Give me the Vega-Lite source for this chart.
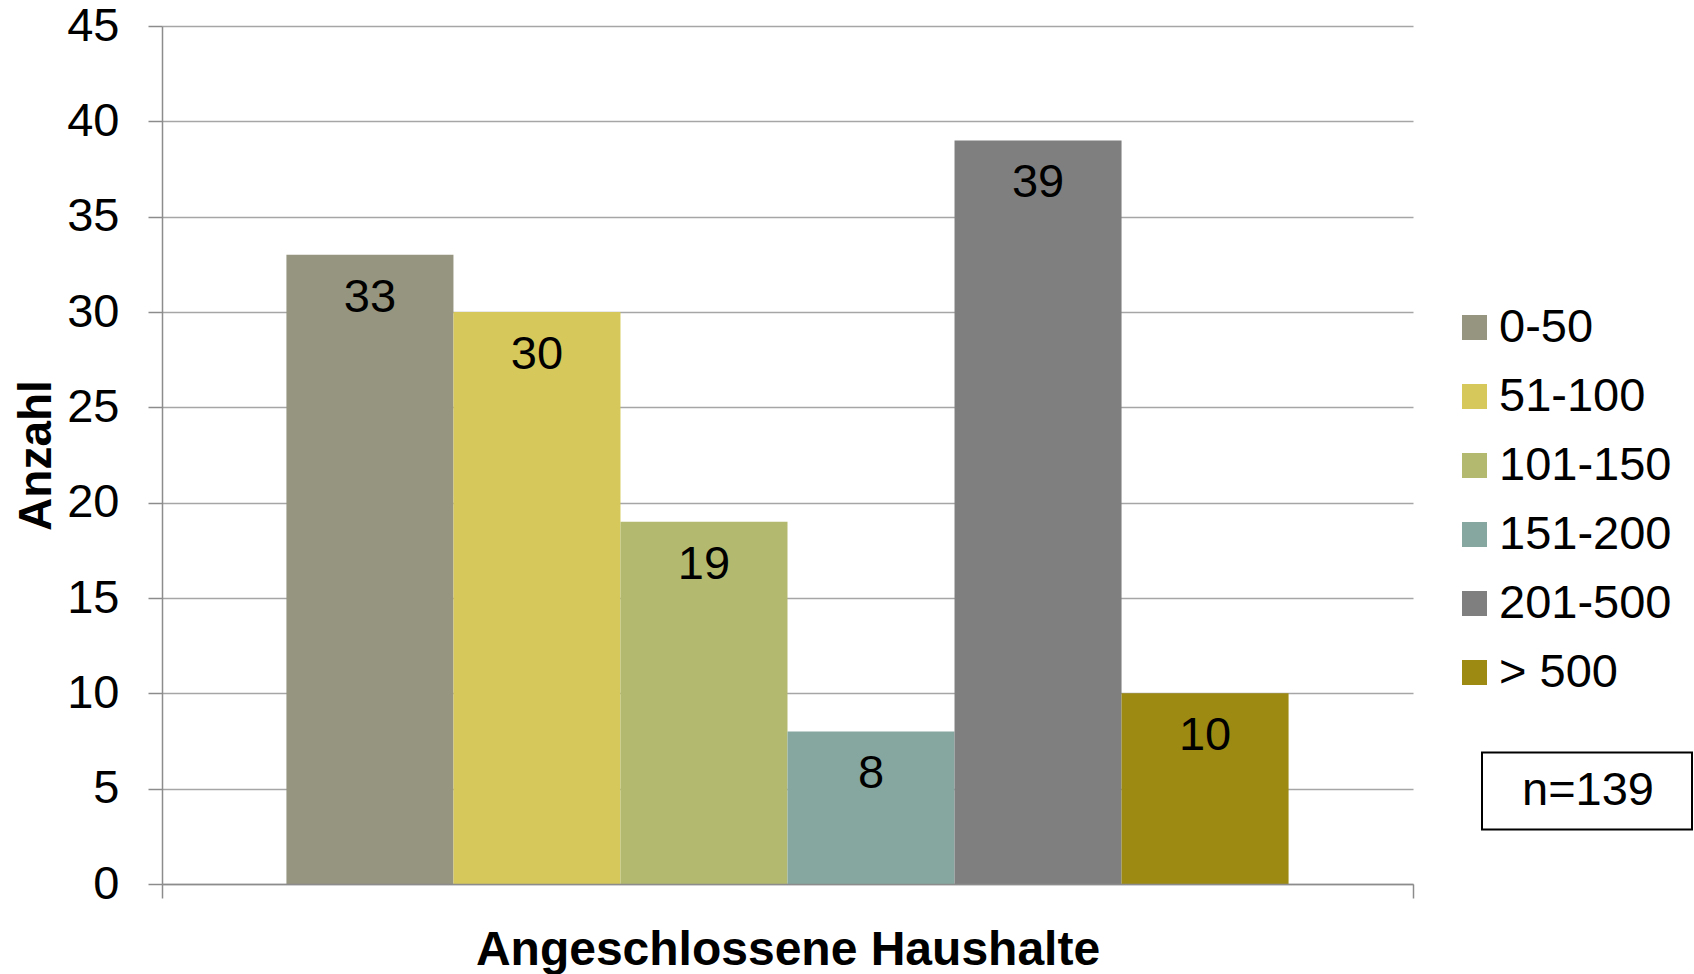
{
  "$schema": "https://vega.github.io/schema/vega-lite/v6.json",
  "width": 1251,
  "height": 858,
  "autosize": {"type": "none"},
  "padding": {"left": 162, "top": 26, "right": 281, "bottom": 90},
  "background": "white",
  "config": {"font": "Liberation Sans", "view": {"stroke": null}},
  "data": {
    "values": [
      {"gruppe": "Angeschlossene Haushalte", "klasse": "0-50", "anzahl": 33, "stichprobe": "n=139"},
      {"gruppe": "Angeschlossene Haushalte", "klasse": "51-100", "anzahl": 30, "stichprobe": "n=139"},
      {"gruppe": "Angeschlossene Haushalte", "klasse": "101-150", "anzahl": 19, "stichprobe": "n=139"},
      {"gruppe": "Angeschlossene Haushalte", "klasse": "151-200", "anzahl": 8, "stichprobe": "n=139"},
      {"gruppe": "Angeschlossene Haushalte", "klasse": "201-500", "anzahl": 39, "stichprobe": "n=139"},
      {"gruppe": "Angeschlossene Haushalte", "klasse": "> 500", "anzahl": 10, "stichprobe": "n=139"}
    ]
  },
  "encoding": {
    "x": {
      "field": "gruppe",
      "type": "nominal",
      "scale": {"paddingInner": 0, "paddingOuter": 0},
      "axis": {
        "labels": false,
        "ticks": true,
        "tickBand": "extent",
        "tickSize": 14,
        "tickColor": "#8C8C8C",
        "tickWidth": 1.5,
        "domainColor": "#8C8C8C",
        "domainWidth": 1.5,
        "grid": false,
        "zindex": 1,
        "title": "Angeschlossene Haushalte",
        "titleFontSize": 48,
        "titleFontWeight": "bold",
        "titleColor": "black",
        "titleBaseline": "alphabetic",
        "titleY": 80
      }
    },
    "xOffset": {
      "field": "klasse",
      "type": "nominal",
      "sort": ["0-50", "51-100", "101-150", "151-200", "201-500", "> 500"],
      "scale": {"paddingInner": 0, "paddingOuter": 0.745}
    },
    "y": {
      "field": "anzahl",
      "type": "quantitative",
      "scale": {"domain": [0, 45], "nice": false},
      "axis": {
        "values": [0, 5, 10, 15, 20, 25, 30, 35, 40, 45],
        "grid": true,
        "gridColor": "#A6A6A6",
        "gridWidth": 1.5,
        "domainColor": "#8C8C8C",
        "domainWidth": 1.5,
        "tickColor": "#8C8C8C",
        "tickWidth": 1.5,
        "tickSize": 14,
        "labelFontSize": 47,
        "labelPadding": 29,
        "labelColor": "black",
        "title": "Anzahl",
        "titleFontSize": 46,
        "titleFontWeight": "bold",
        "titleColor": "black",
        "titleBaseline": "alphabetic",
        "titleX": -112
      }
    }
  },
  "layer": [
    {
      "mark": {"type": "bar"},
      "encoding": {
        "color": {
          "field": "klasse",
          "type": "nominal",
          "sort": ["0-50", "51-100", "101-150", "151-200", "201-500", "> 500"],
          "scale": {
            "domain": ["0-50", "51-100", "101-150", "151-200", "201-500", "> 500"],
            "range": ["#96957F", "#D6C85A", "#B3BA70", "#85A79F", "#7F7F7F", "#9C8A12"]
          },
          "legend": {
            "orient": "none",
            "legendX": 1289,
            "legendY": 278,
            "title": null,
            "padding": 0,
            "symbolType": "square",
            "symbolSize": 625,
            "symbolStrokeWidth": 0,
            "labelFontSize": 47,
            "labelColor": "black",
            "labelLimit": 0,
            "labelOffset": 1,
            "rowPadding": 21
          }
        },
        "opacity": {
          "field": "stichprobe",
          "type": "ordinal",
          "scale": {"range": [1, 1]},
          "legend": {
            "orient": "none",
            "legendX": 1319,
            "legendY": 659,
            "title": null,
            "padding": 0,
            "symbolType": "M-1,-0.367L1,-0.367L1,0.367L-1,0.367Z",
            "symbolSize": 44100,
            "symbolFillColor": "transparent",
            "symbolStrokeColor": "black",
            "symbolStrokeWidth": 2,
            "labelFontSize": 47,
            "labelColor": "black",
            "labelLimit": 0,
            "labelOffset": -171
          }
        }
      }
    },
    {
      "mark": {"type": "text", "baseline": "top", "dy": 20, "fontSize": 47, "color": "black"},
      "encoding": {"text": {"field": "anzahl", "type": "quantitative"}}
    }
  ]
}
